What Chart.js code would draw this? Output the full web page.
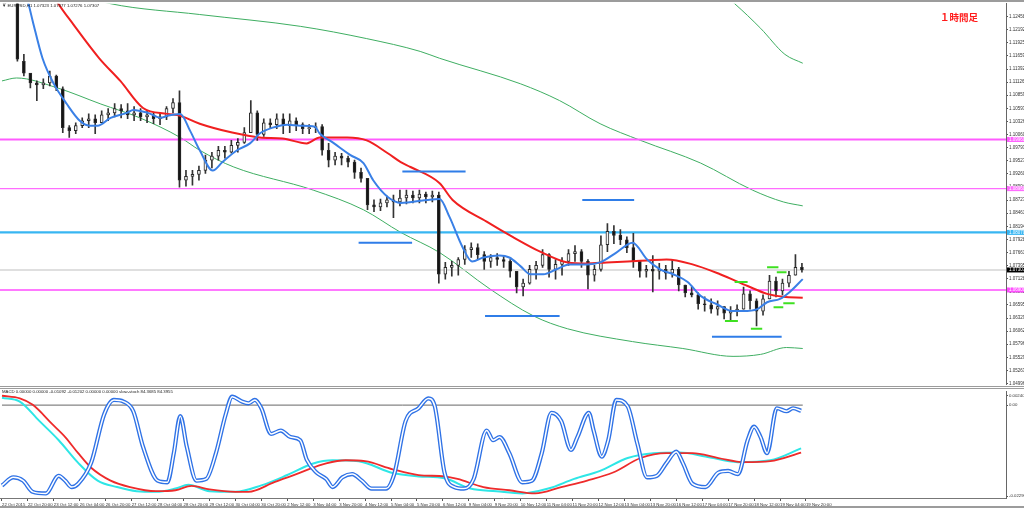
<!DOCTYPE html>
<html lang="ja">
<head>
<meta charset="UTF-8">
<title>EURUSD H1</title>
<style>
  body { margin: 0; background: #fff; width: 1024px; height: 508px; overflow: hidden; position: relative;
         font-family: 'Liberation Sans', Arial, sans-serif; }
  canvas { position: absolute; left: 0; }
  #mainChart { top: 0; }
  #subChart { top: 388px; }
  .hdr { position: absolute; font-size: 4.3px; color: #222; white-space: nowrap; line-height: 5px; }
  #tf { position: absolute; left: 940px; top: 10px; color: #ff1a1a; font: bold 9.5px 'Noto Sans CJK JP', sans-serif; }
  .rule { position: absolute; background: #9c9c9c; }
</style>
</head>
<body>
<canvas id="mainChart" width="1024" height="388"></canvas>
<canvas id="subChart" width="1024" height="120"></canvas>
<div class="rule" style="left:0;top:0;width:1024px;height:2px"></div>
<div class="rule" style="left:0;top:386px;width:1024px;height:1px"></div>
<div class="rule" style="left:0;top:388px;width:1024px;height:1px"></div>
<div class="rule" style="left:0;top:506px;width:1024px;height:2px"></div>
<div class="hdr" style="left:2px;top:3px">▼ EURUSD,H1 1.07323 1.07377 1.07276 1.07307</div>
<div class="hdr" style="left:2px;top:389px">MACD 0.00000 0.00000 -0.01092 -0.01202 0.00000 0.00000 slow-stoch 84.3685 84.3955</div>
<div id="tf">１時間足</div>

<script src="https://cdn.jsdelivr.net/npm/chart.js"></script>
<script>
// x axis is the hourly bar number, 0 = 22 Oct 04:00 (weekends skipped)
const X_MIN = -1.23, X_MAX = 619.4;

// 4-hour candles
const candleOpen = [1.1340,1.1342,1.1338,1.1155,1.1131,1.1111,1.1107,1.1111,1.1125,1.1099,
  1.1020,1.1014,1.1024,1.1034,1.1038,1.1030,1.1046,1.1050,1.1059,1.1054,
  1.1046,1.1050,1.1042,1.1046,1.1038,1.1042,1.1059,1.1071,1.0913,1.0921,
  1.0925,1.0933,1.0954,1.0962,1.0974,1.0970,1.0984,1.0990,1.1010,1.1050,
  1.1006,1.1030,1.1026,1.1038,1.1024,1.1034,1.1026,1.1018,1.1020,1.1022,
  1.0974,1.0954,1.0962,1.0958,1.0950,1.0929,1.0917,1.0863,1.0859,1.0867,
  1.0873,1.0869,1.0877,1.0883,1.0877,1.0885,1.0879,1.0883,1.0722,1.0736,
  1.0740,1.0752,1.0772,1.0776,1.0762,1.0748,1.0756,1.0752,1.0748,1.0728,
  1.0696,1.0704,1.0732,1.0740,1.0762,1.0732,1.0742,1.0748,1.0764,1.0768,
  1.0748,1.0720,1.0732,1.0782,1.0809,1.0801,1.0792,1.0776,1.0748,1.0728,
  1.0732,1.0728,1.0732,1.0724,1.0732,1.0700,1.0684,1.0680,1.0662,1.0660,
  1.0651,1.0656,1.0643,1.0647,1.0651,1.0682,1.0668,1.0647,1.0672,1.0708,
  1.0688,1.0704,1.0720,1.0736];
const candleHigh = [1.1352,1.1355,1.1348,1.1169,1.1123,1.1115,1.1119,1.1135,1.1127,1.1103,
  1.1024,1.1030,1.1040,1.1048,1.1046,1.1054,1.1059,1.1069,1.1067,1.1069,
  1.1063,1.1059,1.1054,1.1050,1.1050,1.1063,1.1079,1.1095,1.0933,1.0933,
  1.0942,1.0964,1.0970,1.0982,1.0982,1.0994,1.0998,1.1020,1.1075,1.1054,
  1.1038,1.1038,1.1048,1.1048,1.1048,1.1040,1.1030,1.1026,1.1030,1.1026,
  1.0988,1.0970,1.0968,1.0962,1.0954,1.0938,1.0917,1.0873,1.0875,1.0881,
  1.0883,1.0893,1.0893,1.0891,1.0893,1.0889,1.0891,1.0889,1.0746,1.0748,
  1.0756,1.0780,1.0786,1.0784,1.0768,1.0762,1.0764,1.0760,1.0752,1.0728,
  1.0712,1.0740,1.0748,1.0772,1.0764,1.0752,1.0756,1.0772,1.0780,1.0772,
  1.0752,1.0740,1.0800,1.0825,1.0821,1.0813,1.0798,1.0805,1.0748,1.0740,
  1.0760,1.0744,1.0740,1.0752,1.0736,1.0700,1.0696,1.0684,1.0676,1.0672,
  1.0668,1.0656,1.0656,1.0660,1.0696,1.0688,1.0672,1.0680,1.0720,1.0716,
  1.0712,1.0728,1.0762,1.0744];
const candleLow = [1.1330,1.1332,1.1155,1.1125,1.1101,1.1075,1.1099,1.1105,1.1095,1.1010,
  1.1000,1.1008,1.1020,1.1020,1.1008,1.1030,1.1034,1.1042,1.1040,1.1038,
  1.1034,1.1034,1.1030,1.1028,1.1026,1.1036,1.1050,1.0899,1.0901,1.0903,
  1.0913,1.0927,1.0938,1.0954,1.0958,1.0968,1.0970,1.0988,1.1010,1.0994,
  1.1002,1.1018,1.1018,1.1008,1.1010,1.1014,1.1008,1.1008,1.1010,1.0964,
  1.0940,1.0944,1.0944,1.0940,1.0917,1.0909,1.0853,1.0849,1.0851,1.0859,
  1.0837,1.0861,1.0865,1.0867,1.0867,1.0867,1.0869,1.0704,1.0712,1.0718,
  1.0720,1.0742,1.0756,1.0752,1.0732,1.0736,1.0740,1.0736,1.0716,1.0684,
  1.0678,1.0702,1.0712,1.0736,1.0716,1.0712,1.0720,1.0740,1.0748,1.0736,
  1.0692,1.0708,1.0728,1.0768,1.0784,1.0782,1.0766,1.0736,1.0716,1.0716,
  1.0686,1.0712,1.0712,1.0716,1.0688,1.0676,1.0676,1.0651,1.0647,1.0643,
  1.0639,1.0631,1.0629,1.0637,1.0651,1.0651,1.0617,1.0639,1.0672,1.0676,
  1.0680,1.0696,1.0720,1.0726];
const candleClose = [1.1342,1.1338,1.1159,1.1131,1.1111,1.1107,1.1111,1.1125,1.1101,1.1020,
  1.1014,1.1024,1.1034,1.1038,1.1030,1.1046,1.1050,1.1059,1.1054,1.1046,
  1.1050,1.1042,1.1046,1.1038,1.1042,1.1059,1.1071,1.0913,1.0921,1.0925,
  1.0933,1.0954,1.0962,1.0974,1.0970,1.0984,1.0990,1.1010,1.1050,1.1006,
  1.1030,1.1026,1.1038,1.1024,1.1034,1.1026,1.1018,1.1020,1.1022,1.0974,
  1.0954,1.0962,1.0958,1.0950,1.0929,1.0917,1.0863,1.0859,1.0867,1.0873,
  1.0869,1.0877,1.0883,1.0877,1.0885,1.0879,1.0883,1.0722,1.0736,1.0740,
  1.0752,1.0772,1.0776,1.0762,1.0748,1.0756,1.0752,1.0748,1.0728,1.0696,
  1.0704,1.0732,1.0740,1.0762,1.0732,1.0742,1.0748,1.0764,1.0768,1.0748,
  1.0720,1.0732,1.0782,1.0809,1.0801,1.0792,1.0776,1.0748,1.0728,1.0732,
  1.0728,1.0732,1.0724,1.0732,1.0700,1.0684,1.0680,1.0662,1.0660,1.0651,
  1.0656,1.0643,1.0647,1.0651,1.0682,1.0668,1.0647,1.0672,1.0708,1.0688,
  1.0704,1.0720,1.0736,1.07307];

// moving averages (bar number / price)
const fastMaX = [12,16,19,25,32,40,48,54,59,67,77,81,90,98,102,110,116,122,130,136,
  145,153,159,167,176,184,193,196,204,215,223,229,238,246,262,270,276,284,290,297,
  307,313,320,326,334,342,350,361,369,379,389,398,406,414,423,431,441,451,457,466,
  472,480,486,494];
const fastMa = [1.1316,1.1276,1.1236,1.1161,1.1109,1.1068,1.1034,1.1024,1.1024,1.1040,
  1.1050,1.1056,1.1050,1.1040,1.1044,1.1048,1.1014,1.0974,1.0933,1.0950,
  1.0974,1.0988,1.1008,1.1020,1.1026,1.1024,1.1022,1.1008,1.0990,1.0964,
  1.0948,1.0913,1.0879,1.0867,1.0873,1.0875,1.0839,1.0778,1.0748,1.0756,
  1.0760,1.0756,1.0738,1.0722,1.0722,1.0732,1.0742,1.0742,1.0746,1.0766,
  1.0786,1.0752,1.0732,1.0722,1.0706,1.0678,1.0661,1.0647,1.0647,1.0651,
  1.0665,1.0672,1.0686,1.0712];
const slowMaX = [26,34,44,60,73,87,102,110,122,142,159,173,188,196,213,225,238,246,252,270,
  278,299,315,332,349,361,373,386,398,410,426,443,460,472,482,494];
const slowMa = [1.1326,1.1276,1.1230,1.1161,1.1115,1.1060,1.1048,1.1044,1.1028,1.1010,
  1.1000,1.0998,1.0988,1.1000,1.1000,1.0994,1.0968,1.0950,1.0940,1.0907,
  1.0873,1.0829,1.0798,1.0768,1.0746,1.0744,1.0746,1.0748,1.0750,1.0752,
  1.0742,1.0722,1.0698,1.0682,1.0676,1.0674];

// bollinger bands
const bandMidX = [0,67,122,184,225,258,270,320,344,369,394,431,463,482,494];
const bandMid = [1.1336,1.1272,1.1250,1.1226,1.1201,1.1175,1.1161,1.1109,1.1075,1.1028,1.0994,1.0948,1.0893,1.0869,1.0861];
const bandLowX = [0,9,34,61,85,110,122,143,192,223,246,270,301,328,349,389,420,451,468,484,494];
const bandLow = [1.1115,1.1121,1.1101,1.1068,1.1040,1.1000,1.0974,1.0940,1.0893,1.0853,1.0807,1.0766,1.0692,1.0637,1.0611,1.0585,1.0571,1.0555,1.0559,1.0573,1.0571];
const bandUpX = [394,431,452,468,483,494];
const bandUp = [1.1407,1.1328,1.1272,1.1222,1.1169,1.1151];

// horizontal levels
const levelPrice = [1.0996, 1.0896, 1.0807, 1.0690];
const levelColor = ['#ff5cff', '#ff6cff', '#38b6f2', '#ff4cff'];
const levelWidth = [2, 1.2, 2.2, 1.6];
const lastPrice = 1.07307;

// hand-drawn segments
const blueSegStart = [220, 247, 298, 358, 438];
const blueSegEnd = [253, 286, 344, 390, 481];
const blueSegPrice = [1.0786, 1.0931, 1.0637, 1.0873, 1.0595];
const greenSegStart = [446, 452, 462, 472, 476, 478, 482];
const greenSegEnd = [454, 460, 469, 479, 482, 484, 489];
const greenSegPrice = [1.0627, 1.0706, 1.0611, 1.0736, 1.0655, 1.0726, 1.0663];

// axis ticks
const priceTicks = [1.04996,1.05263,1.05529,1.05796,1.06062,1.06329,1.06595,1.06862,1.07128,1.07395,
  1.07661,1.07928,1.08194,1.08461,1.08727,1.08994,1.09260,1.09527,1.09793,1.10060,
  1.10326,1.10593,1.10859,1.11126,1.11392,1.11659,1.11925,1.12192,1.12458];
const timeTickIdx = [0,16,32,48,64,80,96,112,128,144,160,176,192,208,224,240,256,272,288,304,
  320,336,352,368,384,400,416,432,448,464,480,496];
const timeLabels = ['22 Oct 2015','22 Oct 20:00','23 Oct 12:00','26 Oct 04:00','26 Oct 20:00','27 Oct 12:00',
  '28 Oct 04:00','28 Oct 20:00','29 Oct 12:00','30 Oct 04:00','30 Oct 20:00','2 Nov 12:00','3 Nov 04:00',
  '3 Nov 20:00','4 Nov 12:00','5 Nov 04:00','5 Nov 20:00','6 Nov 12:00','9 Nov 04:00','9 Nov 20:00',
  '10 Nov 12:00','11 Nov 04:00','11 Nov 20:00','12 Nov 12:00','13 Nov 04:00','13 Nov 20:00','16 Nov 12:00',
  '17 Nov 04:00','17 Nov 20:00','18 Nov 12:00','19 Nov 04:00','19 Nov 20:00'];
const oscTicks = [0.002405, 0, -0.022969];
const oscTickText = ['0.002405', '0.00', '-0.022969'];

// MACD + slow stochastic
const macdX = [0,11,23,35,47,59,71,83,95,107,115,128,144,160,176,192,204,220,241,257,
  273,289,305,321,337,353,369,386,402,418,434,454,474,493];
const macdMain = [0.00188,0.00090,-0.00398,-0.00887,-0.01458,-0.01906,-0.02069,-0.02174,-0.02191,-0.02108,
  -0.02011,-0.02174,-0.02191,-0.02028,-0.01766,-0.01473,-0.01393,-0.01417,-0.01717,-0.01800,
  -0.01849,-0.02108,-0.02174,-0.02230,-0.02108,-0.01864,-0.01661,-0.01336,-0.01214,-0.01197,
  -0.01295,-0.01441,-0.01393,-0.01092];
const signalX = [0,11,19,31,39,47,55,67,79,95,107,117,128,144,152,168,184,200,212,224,
  241,257,273,281,297,313,329,345,361,377,394,410,426,442,458,474,493];
const macdSignal = [0.00237,0.00171,0.00007,-0.00481,-0.00806,-0.01214,-0.01581,-0.01906,-0.02069,-0.02174,
  -0.02150,-0.02040,-0.02130,-0.02191,-0.02191,-0.01947,-0.01703,-0.01473,-0.01393,-0.01417,
  -0.01620,-0.01766,-0.01800,-0.01864,-0.02069,-0.02150,-0.02230,-0.02069,-0.01906,-0.01703,
  -0.01336,-0.01214,-0.01214,-0.01336,-0.01441,-0.01417,-0.01202];
const stochX = [0,7,13,19,27,35,39,43,47,55,63,69,75,81,87,96,102,106,110,114,
  120,126,132,138,142,148,152,156,160,166,172,178,184,188,194,200,204,210,216,222,
  228,237,242,249,257,263,267,273,279,285,291,299,303,307,313,321,327,333,339,345,
  351,355,362,365,370,374,379,386,392,398,404,410,416,420,426,434,442,448,454,460,
  464,468,472,478,484,488,493];
const stoch = [8.8,17,13.7,2.3,0.7,18.6,13.7,7.2,10.5,31.7,80.7,95.4,93.8,84,48,13.7,12,41.5,79,48,
  13.7,15.4,41.5,80.7,98.7,93.8,92,95.4,87,61,64.4,57.8,54.6,35,21.9,15.4,7.2,17,20.3,13.7,
  5.6,5.6,20.3,74,87,97,89,21.9,7.2,5.6,15.4,64.4,54.6,57.8,41.5,12,13.7,41.5,82.4,74,
  44.8,57.8,82.4,64.4,38,54.6,95.4,89,51,17,18.6,31.7,43,31.7,10.5,7.2,21.9,23.5,20.3,54.6,
  68.3,57.8,41.5,87,84,87,84.4];

Chart.defaults.font.family = "'Liberation Sans', Arial, sans-serif";
Chart.defaults.animation = false;

const pts = (xs, ys) => xs.map((x, i) => ({ x: x, y: ys[i] }));
const flat = (v, a, b) => [{ x: a, y: v }, { x: b, y: v }];
const lineSet = (data, color, width, order, extra) => Object.assign({
  type: 'line', data: data, borderColor: color, borderWidth: width, pointRadius: 0,
  fill: false, order: order, cubicInterpolationMode: 'monotone'
}, extra || {});

const candleX = candleOpen.map((o, k) => 4 * k + 1.5);
const wicks = candleX.map((x, k) => ({ x: x, y: [candleLow[k], candleHigh[k]] }));
const bodies = candleX.map((x, k) => ({ x: x, y: [Math.min(candleOpen[k], candleClose[k]), Math.max(candleOpen[k], candleClose[k])] }));
const bodyFill = candleOpen.map((o, k) => candleClose[k] >= o ? '#f4f4f4' : '#151515');

const mainSets = [
  lineSet(pts(bandUpX, bandUp), '#3fae62', 1, 60),
  lineSet(pts(bandMidX, bandMid), '#3fae62', 1, 60),
  lineSet(pts(bandLowX, bandLow), '#3fae62', 1, 60),
  lineSet(flat(lastPrice, X_MIN, X_MAX), '#d4d4d4', 1.5, 55),
];
levelPrice.forEach((v, i) => mainSets.push(lineSet(flat(v, X_MIN, X_MAX), levelColor[i], levelWidth[i], 50)));
mainSets.push({ type: 'bar', data: wicks, backgroundColor: '#333', barThickness: 1, grouped: false, order: 40, borderWidth: 0 });
mainSets.push({ type: 'bar', data: bodies, backgroundColor: bodyFill, borderColor: '#2a2a2a', borderWidth: 1,
  borderSkipped: false, barThickness: 3, minBarLength: 1, grouped: false, order: 39 });
mainSets.push(lineSet(pts(slowMaX, slowMa), '#f02020', 2, 30));
mainSets.push(lineSet(pts(fastMaX, fastMa), '#3a80e6', 2, 29));
blueSegPrice.forEach((v, i) => mainSets.push(lineSet(flat(v, blueSegStart[i], blueSegEnd[i]), '#2f7de8', 2, 10)));
greenSegPrice.forEach((v, i) => mainSets.push(lineSet(flat(v, greenSegStart[i], greenSegEnd[i]), '#3ee021', 2, 10)));

// price boxes on the right axis
const axisBoxes = {
  id: 'axisBoxes',
  afterDraw(chart) {
    const y = chart.scales.y, ctx = chart.ctx;
    const marks = levelPrice.map((v, i) => [v, levelColor[i]]).concat([[lastPrice, '#000']]);
    ctx.save();
    ctx.font = "4.5px 'Liberation Sans', Arial, sans-serif";
    ctx.textBaseline = 'middle';
    marks.forEach(m => {
      const py = y.getPixelForValue(m[0]);
      ctx.fillStyle = m[1];
      ctx.fillRect(y.left + 1, py - 2.5, 17, 5);
      ctx.fillStyle = '#fff';
      ctx.fillText(m[0].toFixed(5), y.left + 3, py + 0.3);
    });
    ctx.restore();
  }
};

new Chart(document.getElementById('mainChart'), {
  type: 'line',
  data: { datasets: mainSets },
  options: {
    responsive: false,
    layout: { padding: { top: 2, bottom: 2, left: 0, right: 0 } },
    plugins: { legend: { display: false }, tooltip: { enabled: false } },
    scales: {
      x: { type: 'linear', min: X_MIN, max: X_MAX, display: false, offset: false },
      y: {
        position: 'right', min: 1.04982, max: 1.12720,
        afterBuildTicks: s => { s.ticks = priceTicks.map(v => ({ value: v })); },
        afterFit: s => { s.width = 18; },
        ticks: { autoSkip: false, font: { size: 4.5 }, color: '#333', padding: 1, callback: v => v.toFixed(5) },
        grid: { drawOnChartArea: false, tickLength: 2, color: '#555' },
        border: { color: '#666' }
      }
    }
  },
  plugins: [axisBoxes]
});

new Chart(document.getElementById('subChart'), {
  type: 'line',
  data: {
    datasets: [
      lineSet(flat(0, 0, 494), '#666', 1, 50, { yAxisID: 'yM' }),
      lineSet(pts(macdX, macdMain), '#2ee6e6', 2, 40, { yAxisID: 'yM' }),
      lineSet(pts(signalX, macdSignal), '#ee2b2b', 1.8, 39, { yAxisID: 'yM' }),
      lineSet(pts(stochX, stoch), '#2f72e6', 4.2, 20, { yAxisID: 'yS' }),
      lineSet(pts(stochX, stoch), '#ffffff', 1.5, 19, { yAxisID: 'yS' })
    ]
  },
  options: {
    responsive: false,
    layout: { padding: 0 },
    plugins: { legend: { display: false }, tooltip: { enabled: false } },
    scales: {
      x: {
        type: 'linear', min: X_MIN, max: X_MAX, offset: false,
        afterBuildTicks: s => { s.ticks = timeTickIdx.map(v => ({ value: v })); },
        afterFit: s => { s.height = 10; },
        ticks: { autoSkip: false, maxRotation: 0, align: 'start', font: { size: 4.3 }, color: '#333', padding: 1,
                 callback: (v, i) => timeLabels[i] },
        grid: { drawOnChartArea: false, tickLength: 3, color: '#555' },
        border: { color: '#777' }
      },
      yM: {
        position: 'right', min: -0.02346, max: 0.00342,
        afterBuildTicks: s => { s.ticks = oscTicks.map(v => ({ value: v })); },
        afterFit: s => { s.width = 18; },
        ticks: { autoSkip: false, font: { size: 4.3 }, color: '#333', padding: 1, callback: (v, i) => oscTickText[i] },
        grid: { drawOnChartArea: false, tickLength: 2, color: '#555' },
        border: { color: '#666' }
      },
      yS: { display: false, min: -3.9, max: 103.9 }
    }
  }
});
</script>
</body>
</html>
